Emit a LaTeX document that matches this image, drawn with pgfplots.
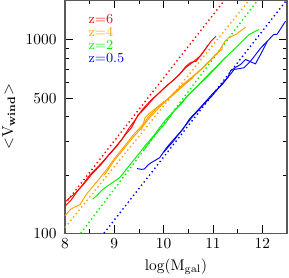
\documentclass[border=0pt]{standalone}
\usepackage{pgfplots}
\pgfplotsset{compat=1.18}
\definecolor{cred}{RGB}{255,0,0}
\definecolor{corange}{RGB}{255,160,0}
\definecolor{cgreen}{RGB}{0,240,0}
\definecolor{cblue}{RGB}{0,0,255}
\begin{document}
\begin{tikzpicture}
\useasboundingbox (-42.25pt,-28.8pt) rectangle (145.6pt,151.6pt);
\begin{axis}[
  width=144.3pt, height=151.3pt, scale only axis,
  xmin=8, xmax=12.5, ymode=log, ymin=100, ymax=1600,
  xtick={8,9,10,11,12}, minor xtick={8.5,9.5,10.5,11.5},
  ytick={100,500,1000}, yticklabels={100,500,1000},
  minor ytick={200,300,400,600,700,800,900},
  tick align=inside, major tick length=5.2pt, minor tick length=2.6pt,
  axis line style={gray!70!black, line width=0.7pt},
  tick style={black, line width=0.6pt},
  xlabel={log(M$_{\rm gal}$)},
  ylabel={$<$V$_{\bf wind}$$>$},
  yticklabel style={xshift=-2pt},
  clip=true,
  solidline/.style={line width=0.6pt},
  dotline/.style={line width=0.9pt, dash pattern=on 0.9pt off 1.9pt},
]
% dotted power laws
\addplot[corange, dotline] coordinates {(8,107) (11.73,1600)};
\addplot[cred, dotline] coordinates {(8,142) (11.23,1600)};
\addplot[cgreen, dotline] coordinates {(8.32,100) (11.9,1600)};
\addplot[cblue, dotline] coordinates {(8.79,100) (12.47,1580)};
% red
\addplot[cred, solidline] coordinates {(8.00,145) (8.10,153) (8.20,160) (8.35,177) (8.50,200) (8.65,218) (8.80,240) (9.00,275) (9.15,305) (9.30,350) (9.45,395) (9.58,440) (9.75,490) (9.90,530) (10.05,577) (10.20,620) (10.32,663) (10.45,730) (10.55,765) (10.66,776) (10.79,857) (10.96,984) (11.06,1045)};
\addplot[cred, solidline] coordinates {(8.00,138) (8.12,148) (8.25,165) (8.40,182) (8.55,203) (8.70,222) (8.88,252) (9.05,282) (9.20,318) (9.35,352) (9.48,410) (9.55,425) (9.65,452) (9.80,500) (10.00,560) (10.15,605) (10.30,655) (10.45,720) (10.60,770) (10.75,830) (10.90,940)};
% orange
\addplot[corange, solidline] coordinates {(8.00,123) (8.10,132) (8.20,137) (8.30,140) (8.44,160) (8.61,180) (8.81,208) (9.01,245) (9.22,285) (9.35,315) (9.58,366) (9.71,405) (9.92,460) (10.05,483) (10.20,530) (10.39,589) (10.60,650) (10.79,718) (10.95,790) (11.13,882) (11.25,990) (11.33,1030) (11.46,1066) (11.66,1164)};
\addplot[corange, solidline] coordinates {(8.80,200) (9.00,238) (9.20,275) (9.40,318) (9.55,350) (9.70,392) (9.90,445) (10.10,500) (10.30,555) (10.50,612) (10.70,680) (10.90,760) (11.10,860) (11.20,900)};
\addplot[corange, solidline] coordinates {(9.55,340) (9.62,395) (9.70,415) (9.85,445) (10.00,478) (10.20,520) (10.40,580) (10.60,640)};
% green
\addplot[cgreen, solidline] coordinates {(8.56,150) (8.65,157) (8.77,169) (8.95,182) (9.11,194) (9.25,215) (9.38,237) (9.52,262) (9.65,289) (9.80,320) (9.92,352) (10.05,389) (10.12,405) (10.25,440) (10.39,483) (10.55,535) (10.72,589) (10.90,650) (11.06,718) (11.22,795) (11.39,875) (11.55,960) (11.73,1066) (11.93,1132)};
\addplot[cgreen, solidline] coordinates {(9.60,270) (9.75,305) (9.90,340) (10.05,375) (10.20,425) (10.35,465) (10.50,520) (10.65,565) (10.80,620) (10.95,680) (11.10,740) (11.25,810)};
% blue
\addplot[cblue, solidline] coordinates {(9.46,216) (9.55,214) (9.61,215) (9.68,225) (9.75,232) (9.85,240) (9.92,246) (10.05,275) (10.12,289) (10.25,315) (10.39,345) (10.52,389) (10.70,435) (10.86,483) (11.00,530) (11.19,589) (11.30,640) (11.36,695) (11.56,747) (11.66,792) (11.86,752) (12.00,875) (12.10,984) (12.23,1066) (12.30,1070) (12.47,1250)};
\addplot[cblue, solidline] coordinates {(10.00,262) (10.20,300) (10.40,350) (10.60,405) (10.80,460) (11.00,520) (11.20,600) (11.30,640) (11.43,703) (11.63,718) (11.76,776) (11.97,910) (12.10,984)};
% legend text
\node[anchor=west, text=cred, inner sep=0pt, font=\small] at (rel axis cs:0.105,0.92) {z=6};
\node[anchor=west, text=corange, inner sep=0pt, font=\small] at (rel axis cs:0.105,0.864) {z=4};
\node[anchor=west, text=cgreen, inner sep=0pt, font=\small] at (rel axis cs:0.105,0.808) {z=2};
\node[anchor=west, text=cblue, inner sep=0pt, font=\small] at (rel axis cs:0.105,0.752) {z=0.5};
\end{axis}
\end{tikzpicture}
\end{document}
